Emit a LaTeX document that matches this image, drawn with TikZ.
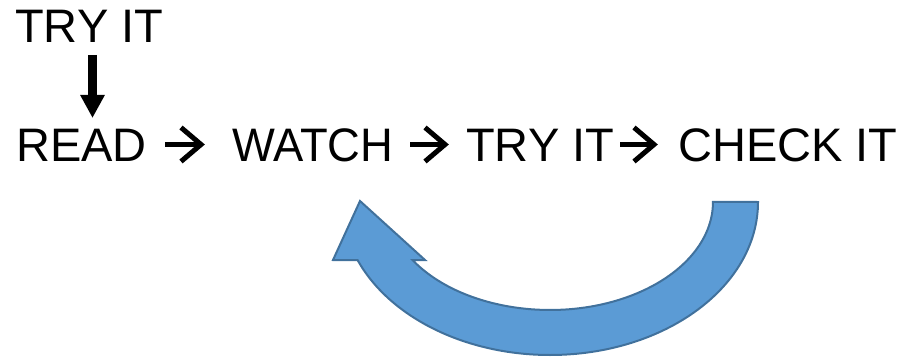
\documentclass[tikz,border=0pt]{standalone}
\usepackage{fontspec}
\setmainfont{Liberation Sans}
\usetikzlibrary{arrows.meta,calc}
\definecolor{bluefill}{HTML}{5B9BD5}
\definecolor{blueline}{HTML}{41719C}
\begin{document}
\begin{tikzpicture}[x=1pt,y=1pt,
  word/.style={inner sep=0pt, anchor=base west, font=\fontsize{47}{56}\selectfont},
  chevline/.style={line width=5pt, line join=miter, line cap=butt},
  downarrow/.style={line width=9pt, -{Triangle[length=23pt,width=23pt]}}]
\useasboundingbox (0,0) rectangle (909,-358);
\node[word] (try1) at (15,-43) {TRY IT};
\node[word] (read) at (16,-162) {READ};
\node[word, xscale=0.965] (watch) at (232,-162) {WATCH};
\node[word] (try2) at (466,-162) {TRY IT};
\node[word] (check) at (678,-162) {CHECK IT};
\coordinate (dtop) at (92.5,-55);
\coordinate (dbot) at (92.5,-118);
\draw[downarrow] (dtop) -- (dbot);
% chevron arrows between words
\coordinate (a1s) at (165,-144.5);
\coordinate (a1e) at (201,-144.5);
\coordinate (a2s) at (410,-144.5);
\coordinate (a2e) at (445,-144.5);
\coordinate (a3s) at (620,-144.5);
\coordinate (a3e) at (654,-144.5);
\foreach \s/\e in {a1s/a1e, a2s/a2e, a3s/a3e}{
  \draw[chevline] (\s) -- (\e);
  \draw[chevline] ($(\e)+(-20,17)$) -- (\e) -- ($(\e)+(-20,-17)$);
}
\draw[fill=bluefill, draw=blueline, line width=2pt, line join=miter]
  (758,-202) arc[start angle=0, end angle=-157.7, x radius=208, y radius=153]
  -- (333,-260) -- (360,-201) -- (425,-260) -- (412.5,-260)
  arc[start angle=-147.5, end angle=0, x radius=163, y radius=108]
  -- cycle;
\end{tikzpicture}
\end{document}
